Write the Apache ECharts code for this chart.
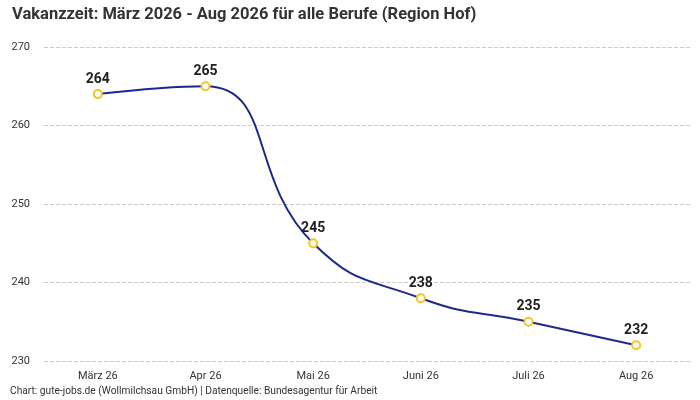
<!DOCTYPE html>
<html>
<head>
    <meta charset="utf-8">
    <title>Vakanzzeit</title>
    <script src="https://cdn.jsdelivr.net/npm/echarts@6/dist/echarts.min.js"></script>
    <style>
        * { margin: 0; padding: 0; }
        html, body { width: 100%; height: 100%; overflow: hidden; background: #fff; }
        #chart { width: 700px; height: 400px; }
    </style>
</head>
<body>
<div id="chart"></div>
<script>
    // Daten
    const months = ['März 26', 'Apr 26', 'Mai 26', 'Juni 26', 'Juli 26', 'Aug 26'];
    const vakanzzeit = [264, 265, 245, 238, 235, 232];

    const chart = echarts.init(document.getElementById('chart'));
    const font = 'Roboto, "Noto Sans", sans-serif';

    chart.setOption({
        animation: false,
        textStyle: { fontFamily: font },
        title: [{
            text: 'Vakanzzeit: März 2026 - Aug 2026 für alle Berufe (Region Hof)',
            left: 7,
            top: 1,
            textStyle: { fontSize: 16.5, fontWeight: 'bold', color: '#333', fontFamily: font }
        }, {
            text: 'Chart: gute-jobs.de (Wollmilchsau GmbH) | Datenquelle: Bundesagentur für Arbeit',
            left: 5,
            top: 381,
            textStyle: { fontSize: 10.2, fontWeight: 'normal', color: '#333', fontFamily: font }
        }],
        grid: { left: 44, right: 10, top: 47, bottom: 39 },
        xAxis: {
            type: 'category',
            data: months,
            axisLine: { show: false },
            axisTick: { show: false },
            axisLabel: { color: '#333', fontSize: 11, margin: 10 }
        },
        yAxis: {
            type: 'value',
            min: 230,
            max: 270,
            interval: 10,
            axisLabel: { color: '#333', fontSize: 11, margin: 14 },
            splitLine: { lineStyle: { type: 'dashed', color: '#ccc' } }
        },
        series: [{
            type: 'line',
            data: vakanzzeit,
            smooth: 0.5,
            symbol: 'emptyCircle',
            symbolSize: 8,
            lineStyle: { color: '#1b2a8c', width: 2 },
            itemStyle: { color: '#f7c325', borderColor: '#f7c325', borderWidth: 2 },
            label: {
                show: true,
                position: 'top',
                distance: 3,
                fontSize: 14,
                fontWeight: 'bold',
                color: '#222'
            }
        }]
    });
</script>
</body>
</html>
